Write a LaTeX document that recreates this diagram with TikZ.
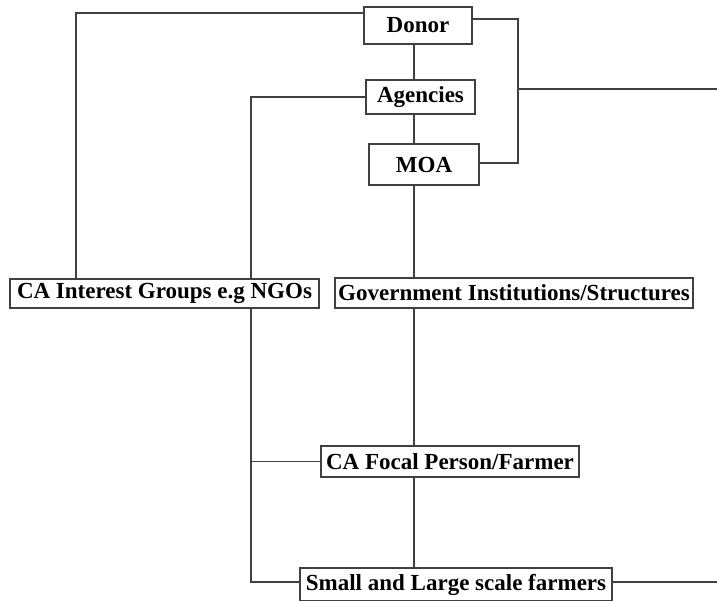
\documentclass[tikz,border=0pt]{standalone}
\usepackage{fontspec}
\setmainfont{Liberation Serif}
\usepackage{tikz}
\usetikzlibrary{positioning}
\tikzset{box/.style = {draw = mgray, line width = 1.2, fill = white, inner sep = 0,
                       font = \fontsize{23}{26}\selectfont\bfseries}}
\tikzset{link/.style = {draw = mgray, line width = 1.2}}
\definecolor{mgray}{rgb}{0.25, 0.25, 0.25}

\begin{document}
\begin{tikzpicture}[x = 1pt, y = -1pt]
    \useasboundingbox (0, 0) rectangle (717, 600);

    \node (donor) at (418, 25.5) [box, minimum width = 108, minimum height = 37] {Donor};
    \node (agencies) at (420.5, 97) [box, minimum width = 109, minimum height = 34] {Agencies};
    \node (moa) at (424, 164.5) [box, minimum width = 110, minimum height = 41] {MOA};
    \node (ngos) at (164.5, 293.5) [box, minimum width = 309, minimum height = 29] {CA Interest Groups e.g NGOs};
    \node (gov) at (514, 293) [box, minimum width = 358, minimum height = 30] {Government Institutions/Structures};
    \node (focal) at (450, 461.5) [box, minimum width = 258, minimum height = 31] {CA Focal Person/Farmer};
    \node (farmers) at (456, 584.5) [box, minimum width = 312, minimum height = 33] {Small and Large scale farmers};

    % vertical runs
    \coordinate (leftbus) at (76, 0);
    \coordinate (ngobus) at (251, 0);
    \coordinate (spine) at (414, 0);
    \coordinate (rightbus) at (518, 0);
    \coordinate (outtop) at (717, 89);
    \coordinate (outbottom) at (717, 582);

    \draw [link] ([yshift = 12.5]donor.west) -| (ngos.north -| leftbus);
    \draw [link] (agencies.west) -| (ngos.north -| ngobus);
    \draw [link] (donor.south -| spine) -- (agencies.north -| spine);
    \draw [link] (agencies.south -| spine) -- (moa.north -| spine);
    \draw [link] (moa.south -| spine) -- (gov.north -| spine);
    \draw [link] ([yshift = 6.5]donor.east) -| ([yshift = 1.5]moa.east -| rightbus) -- ([yshift = 1.5]moa.east);
    \draw [link] (outtop -| rightbus) -- (outtop);

    \draw [link] (ngos.south -| ngobus) |- ([yshift = 2.5]farmers.west);
    \draw [link] (focal.west) -- (focal.west -| ngobus);
    \draw [link] (gov.south -| spine) -- (focal.north -| spine);
    \draw [link] (focal.south -| spine) -- (farmers.north -| spine);
    \draw [link] ([yshift = 2.5]farmers.east) -- (outbottom);
  \end{tikzpicture}
\end{document}
